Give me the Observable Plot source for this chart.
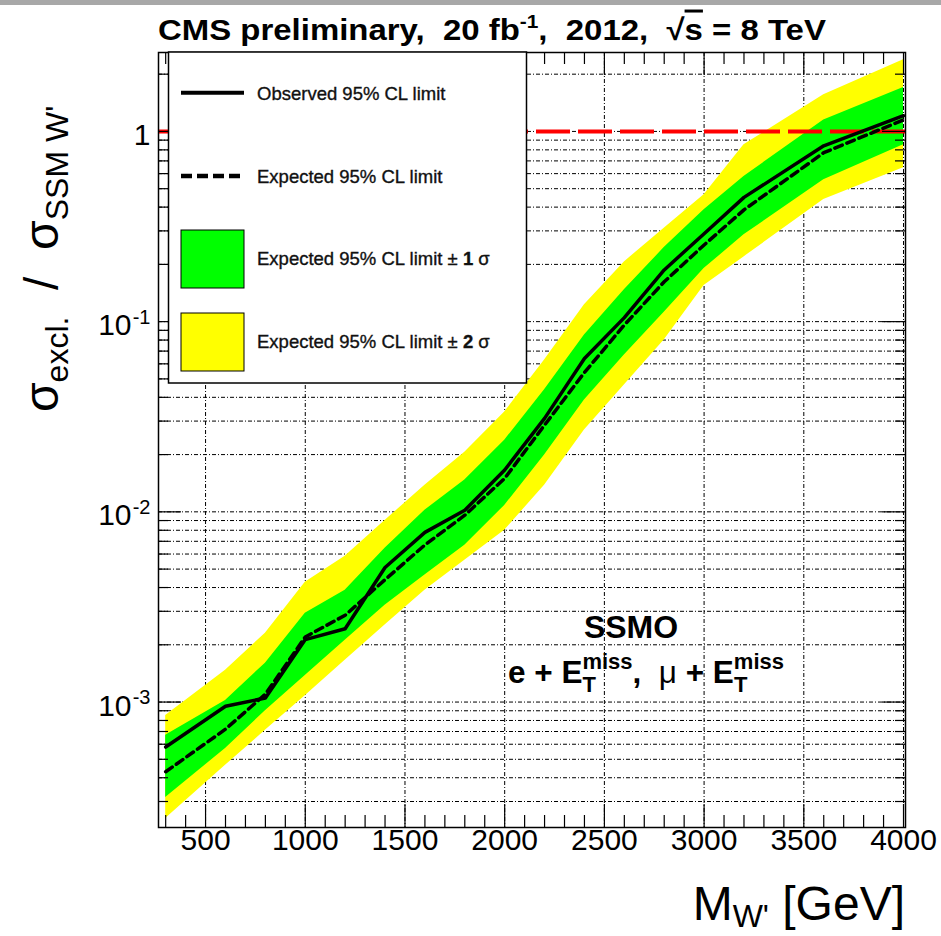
<!DOCTYPE html>
<html><head><meta charset="utf-8">
<script src="https://cdn.jsdelivr.net/npm/d3@7"></script>
<script src="https://cdn.jsdelivr.net/npm/@observablehq/plot@0.6"></script>
<style>body{margin:0;background:#fff} svg{display:block}</style>
</head><body><div id="chart"></div>
<script>
// ---- data ----
const mass      = [300, 600, 800, 1000, 1200, 1400, 1600, 1800, 2000, 2200, 2400, 2600, 2800, 3000, 3200, 3600, 4000];
const observed  = [5.8e-4, 9.5e-4, 1.05e-3, 2.13e-3, 2.43e-3, 5.1e-3, 7.8e-3, 1.02e-2, 1.66e-2, 3.1e-2, 6.4e-2, 0.105, 0.187, 0.29, 0.45, 0.84, 1.21];
const expected  = [4.3e-4, 7.2e-4, 1.1e-3, 2.2e-3, 2.86e-3, 4.4e-3, 6.7e-3, 9.6e-3, 1.5e-2, 2.86e-2, 5.4e-2, 9.6e-2, 0.162, 0.253, 0.387, 0.773, 1.15];
const plus1s    = [6.7e-4, 1.02e-3, 1.6e-3, 2.93e-3, 3.87e-3, 6.44e-3, 1.02e-2, 1.47e-2, 2.38e-2, 4.38e-2, 8.5e-2, 0.147, 0.245, 0.387, 0.58, 1.15, 1.70];
const minus1s   = [3.15e-4, 5.7e-4, 9.0e-4, 1.38e-3, 2.11e-3, 3.23e-3, 4.65e-3, 6.68e-3, 1.08e-2, 1.99e-2, 3.87e-2, 6.68e-2, 0.112, 0.19, 0.286, 0.557, 0.851];
const plus2s    = [8.5e-4, 1.47e-3, 2.3e-3, 4.27e-3, 5.85e-3, 9.0e-3, 1.38e-2, 2.06e-2, 3.35e-2, 6.28e-2, 0.1225, 0.206, 0.31, 0.465, 0.851, 1.56, 2.38];
const minus2s   = [2.44e-4, 4.65e-4, 7.1e-4, 1.08e-3, 1.66e-3, 2.54e-3, 3.87e-3, 5.57e-3, 8.0e-3, 1.38e-2, 2.69e-2, 4.65e-2, 8.0e-2, 0.155, 0.219, 0.438, 0.644];
const xTickLabels = [500, 1000, 1500, 2000, 2500, 3000, 3500, 4000];
const yTickValues = [1e-3, 1e-2, 1e-1, 1];
const yTickBase   = ["10", "10", "10", "1"];
const yTickExp    = ["-3", "-2", "-1", ""];
const excludedRef = [1];
const xDomain = [264, 4010];
const yDomain = [2.19e-4, 2.6];

const rows = mass.map((m, i) => ({m, obs: observed[i], exp: expected[i],
  g1: minus1s[i], g2: plus1s[i], y1: minus2s[i], y2: plus2s[i]}));

const W = 941, H = 936, mL = 158, mR = 36, mT = 52, mB = 109;
const fw = W - mL - mR, fh = H - mT - mB;
const xMinor = d3.range(300, 4001, 100).filter(v => v % 500 !== 0);
const yAll = d3.scaleLog().domain(yDomain).ticks();
const yMinor = yAll.filter(v => !yTickValues.includes(v));
const font = "Liberation Sans, Arial, Helvetica, sans-serif";
const gridStyle = {stroke: "#000", strokeWidth: 1, strokeDasharray: "4,2,1,2"};

const plot = Plot.plot({
  width: W, height: H,
  marginLeft: mL, marginRight: mR, marginTop: mT, marginBottom: mB,
  x: {domain: xDomain, axis: null},
  y: {type: "log", domain: yDomain, axis: null},
  style: {fontFamily: font, background: "white", color: "#000"},
  marks: [
    Plot.ruleX(xTickLabels, {x: d => d, ...gridStyle}),
    Plot.ruleY(yAll, {y: d => d, ...gridStyle}),
    Plot.areaY(rows, {x: "m", y1: "y1", y2: "y2", fill: "#ffff00"}),
    Plot.areaY(rows, {x: "m", y1: "g1", y2: "g2", fill: "#00ff00"}),
    Plot.ruleY(excludedRef, {y: d => d, stroke: "#ff0000", strokeWidth: 4, strokeDasharray: "34,8"}),
    Plot.line(rows, {x: "m", y: "exp", stroke: "#000", strokeWidth: 3.5, strokeDasharray: "8,5"}),
    Plot.line(rows, {x: "m", y: "obs", stroke: "#000", strokeWidth: 3.5}),
    // inward ticks, ROOT style
    Plot.ruleX(xTickLabels, {x: d => d, insetTop: fh - 23, stroke: "#000", strokeWidth: 1.2}),
    Plot.ruleX(xTickLabels, {x: d => d, insetBottom: fh - 23, stroke: "#000", strokeWidth: 1.2}),
    Plot.ruleX(xMinor, {x: d => d, insetTop: fh - 12, stroke: "#000", strokeWidth: 1.2}),
    Plot.ruleX(xMinor, {x: d => d, insetBottom: fh - 12, stroke: "#000", strokeWidth: 1.2}),
    Plot.ruleY(yTickValues, {y: d => d, insetRight: fw - 23, stroke: "#000", strokeWidth: 1.2}),
    Plot.ruleY(yTickValues, {y: d => d, insetLeft: fw - 23, stroke: "#000", strokeWidth: 1.2}),
    Plot.ruleY(yMinor, {y: d => d, insetRight: fw - 10, stroke: "#000", strokeWidth: 1.2}),
    Plot.ruleY(yMinor, {y: d => d, insetLeft: fw - 10, stroke: "#000", strokeWidth: 1.2}),
    Plot.frame({stroke: "#000", strokeWidth: 1.5}),
    // tick labels
    Plot.text(xTickLabels, {x: d => d, frameAnchor: "bottom", dy: 22, text: d => String(d), fontSize: 30, fill: "#000"}),
    Plot.text(yTickValues, {y: d => d, frameAnchor: "left", textAnchor: "end", dy: 4,
      dx: -8, text: (d, i) => yTickExp[i] === "" ? yTickBase[i] : "", fontSize: 30, fill: "#000"}),
    Plot.text(yTickValues, {y: d => d, frameAnchor: "left", textAnchor: "end", dy: 4,
      dx: -27, text: (d, i) => yTickExp[i] === "" ? "" : yTickBase[i], fontSize: 30, fill: "#000"}),
    Plot.text(yTickValues, {y: d => d, frameAnchor: "left", textAnchor: "end", dy: -4,
      dx: -8, text: (d, i) => yTickExp[i], fontSize: 20, fill: "#000"})
  ]
});
document.getElementById("chart").appendChild(plot);

const svg = d3.select(plot);
// top gray strip
svg.append("rect").attr("x", 0).attr("y", 0).attr("width", W).attr("height", 5).attr("fill", "#a8a8a8");

// title (bold, horizontally condensed to the reference width)
const tg = svg.append("g");
const t = tg.append("text").attr("x", 0).attr("y", 0).attr("text-anchor", "start")
  .attr("font-family", font)
  .attr("font-weight", "bold").attr("font-size", 30).attr("fill", "#000");
t.append("tspan").text("CMS preliminary,  20 fb");
t.append("tspan").attr("font-size", 19).attr("dy", -12).text("-1");
t.append("tspan").attr("dy", 12).text(",  2012,  √");
t.append("tspan").attr("text-decoration", "overline").text("s");
t.append("tspan").text(" = 8 TeV");
const tw = t.node().getBBox().width || 668;
tg.attr("transform", `translate(158,40) scale(${668 / tw},1)`);

// x axis title
const xt = svg.append("text").attr("x", 905).attr("y", 920).attr("text-anchor", "end")
  .attr("font-family", font).attr("font-size", 48).attr("fill", "#000");
xt.append("tspan").text("M");
xt.append("tspan").attr("font-size", 32).attr("dy", 7).text("W'");
xt.append("tspan").attr("dy", -7).text(" [GeV]");

// y axis title
const yt = svg.append("text").attr("transform", "translate(58,412) rotate(-90)")
  .attr("text-anchor", "start")
  .attr("font-family", font).attr("font-size", 48).attr("fill", "#000");
yt.append("tspan").text("σ");
yt.append("tspan").attr("font-size", 32).attr("dy", 10).text("excl.");
yt.append("tspan").attr("dy", -10).text("  /  σ");
yt.append("tspan").attr("font-size", 32).attr("dy", 10).text("SSM W'");

// legend
const lg = svg.append("g").attr("font-family", font).attr("font-size", 18.5).attr("fill", "#111")
  .attr("text-anchor", "start");
lg.append("rect").attr("x", 168.5).attr("y", 52).attr("width", 358).attr("height", 331)
  .attr("fill", "#fff").attr("stroke", "#000").attr("stroke-width", 1.5);
lg.append("line").attr("x1", 181).attr("x2", 244).attr("y1", 92.7).attr("y2", 92.7)
  .attr("stroke", "#000").attr("stroke-width", 4);
lg.append("line").attr("x1", 181).attr("x2", 244).attr("y1", 176).attr("y2", 176)
  .attr("stroke", "#000").attr("stroke-width", 4.5).attr("stroke-dasharray", "11,5");
lg.append("rect").attr("x", 181).attr("y", 230).attr("width", 63).attr("height", 58)
  .attr("fill", "#00ff00").attr("stroke", "#000").attr("stroke-width", 1);
lg.append("rect").attr("x", 181).attr("y", 313).attr("width", 63).attr("height", 58)
  .attr("fill", "#ffff00").attr("stroke", "#000").attr("stroke-width", 1);
const legTexts = [
  ["Observed 95% CL limit", 99.5, null],
  ["Expected 95% CL limit", 183, null],
  ["Expected 95% CL limit ", 265, "1"],
  ["Expected 95% CL limit ", 348, "2"]
];
legTexts.forEach(([s, y, n]) => {
  const tx = lg.append("text").attr("x", 257).attr("y", y).attr("text-anchor", "start")
    .attr("stroke", "#111").attr("stroke-width", 0.35);
  tx.append("tspan").text(s);
  if (n) {
    tx.append("tspan").text("± ");
    tx.append("tspan").attr("font-weight", "bold").text(n);
    tx.append("tspan").text(" σ");
  }
});

// SSMO annotation
const an = svg.append("g").attr("font-family", font).attr("font-weight", "bold").attr("fill", "#000");
an.append("text").attr("x", 631).attr("y", 638).attr("text-anchor", "middle").attr("font-size", 32).text("SSMO");
const a2 = an.append("text").attr("x", 508).attr("y", 683).attr("text-anchor", "start").attr("font-size", 31.5);
a2.append("tspan").text("e + E");
a2.append("tspan").attr("font-size", 22).attr("dy", 9).text("T");
a2.append("tspan").attr("font-size", 22).attr("dx", -13.5).attr("dy", -23).text("miss");
a2.append("tspan").attr("dy", 14).text(",  ");
a2.append("tspan").attr("font-weight", "normal").text("μ");
a2.append("tspan").text(" + E");
a2.append("tspan").attr("font-size", 22).attr("dy", 9).text("T");
a2.append("tspan").attr("font-size", 22).attr("dx", -13.5).attr("dy", -23).text("miss");
</script></body></html>
